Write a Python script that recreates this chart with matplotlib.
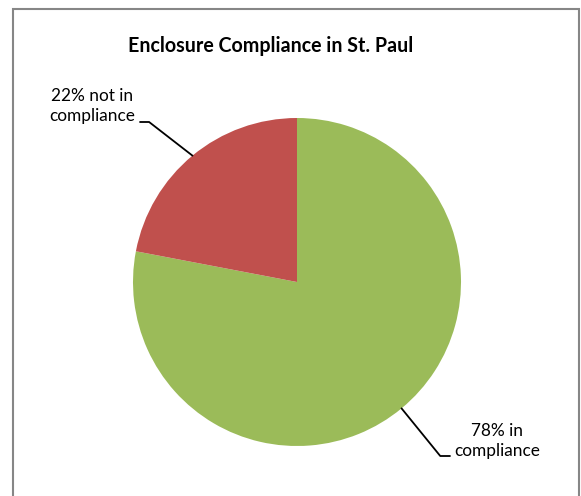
import numpy as np
import matplotlib.pyplot as plt
from matplotlib.patches import Rectangle

# data
labels = ["78% in\ncompliance", "22% not in\ncompliance"]
shares = [78, 22]
colors = ["#9BBB59", "#C0504D"]

W, H = 581, 496
fig = plt.figure(figsize=(W / 100, H / 100), dpi=100)
plt.rcParams['font.family'] = ['Lato', 'DejaVu Sans']

# chart border (Excel style, bottom edge cut off)
fig.patches.append(Rectangle((12.5 / W, -0.05), (578.5 - 12.5) / W, (H - 9) / H + 0.05,
                             transform=fig.transFigure, fill=False,
                             edgecolor="#868686", linewidth=1.5))

# pie
cx, cy, r = 297, 282, 164
ax = fig.add_axes([(cx - r) / W, (H - cy - r) / H, 2 * r / W, 2 * r / H])
wedges, _ = ax.pie(shares, colors=colors, startangle=90, counterclock=False,
                   radius=1, wedgeprops=dict(linewidth=0))
ax.set_xlim(-1, 1)
ax.set_ylim(-1, 1)
ax.set_aspect('equal')
ax.axis('off')

fig.text(270.5 / W, 1 - 46 / H, "Enclosure Compliance in St. Paul",
         ha='center', va='center', fontsize=14.1, fontweight='bold')

# labels with leader lines
text_pos = [(497, 441), (92, 106)]
line_start = [(450, 456), (140, 122)]
line_angle = [-50.9, 142.2]
for w, lab, tp, ls, ang in zip(wedges, labels, text_pos, line_start, line_angle):
    mid = np.deg2rad((w.theta1 + w.theta2) / 2)
    edge = (np.cos(mid), np.sin(mid))
    fig.text(tp[0] / W, 1 - tp[1] / H, lab, ha='center', va='center',
             fontsize=12.4, linespacing=1.25, color='black')
    ax.annotate('', xy=edge, xycoords='data',
                xytext=(ls[0], H - ls[1]), textcoords='figure pixels',
                arrowprops=dict(arrowstyle='-', color='black', lw=1.3,
                                shrinkA=0, shrinkB=0,
                                connectionstyle=f"angle,angleA=0,angleB={ang},rad=0"))

fig.savefig("out.png", dpi=100)
